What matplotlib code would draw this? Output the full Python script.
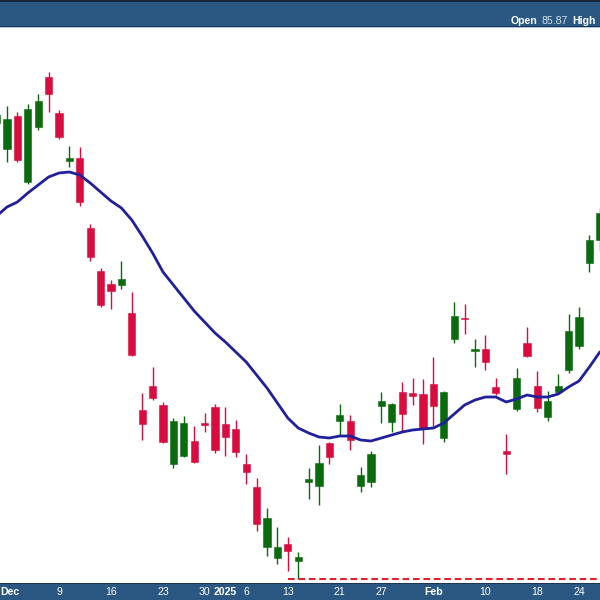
"""Daily candlestick chart, Nov 29 2024 - Feb 26 2025, with moving average."""

import matplotlib
matplotlib.use("Agg")
import matplotlib.pyplot as plt
from matplotlib.patches import Rectangle
import numpy as np

plt.rcParams["font.family"] = ["Liberation Sans", "DejaVu Sans"]

# trading days shown (Jan 9 market closed)
dates = [
    "Nov 29", "Dec 2", "Dec 3", "Dec 4", "Dec 5", "Dec 6", "Dec 9", "Dec 10",
    "Dec 11", "Dec 12", "Dec 13", "Dec 16", "Dec 17", "Dec 18", "Dec 19",
    "Dec 20", "Dec 23", "Dec 24", "Dec 26", "Dec 27", "Dec 30", "Dec 31",
    "Jan 2", "Jan 3", "Jan 6", "Jan 7", "Jan 8", "Jan 10", "Jan 13", "Jan 14",
    "Jan 15", "Jan 16", "Jan 17", "Jan 21", "Jan 22", "Jan 23", "Jan 24",
    "Jan 27", "Jan 28", "Jan 29", "Jan 30", "Jan 31", "Feb 3", "Feb 4",
    "Feb 5", "Feb 6", "Feb 7", "Feb 10", "Feb 11", "Feb 12", "Feb 13",
    "Feb 14", "Feb 18", "Feb 19", "Feb 20", "Feb 21", "Feb 24", "Feb 25",
    "Feb 26",
]

opens = [
    93.85, 92.55, 94.20, 90.90, 93.65, 96.15, 94.35, 91.95, 92.10, 88.60,
    86.45, 85.80, 85.75, 84.35, 79.50, 80.70, 79.75, 76.80, 77.20, 77.95,
    78.85, 79.65, 78.80, 78.55, 76.80, 75.65, 72.65, 72.10, 72.80, 71.95,
    75.90, 75.70, 77.85, 78.95, 78.95, 75.70, 75.90, 79.70, 78.90, 80.40,
    80.35, 80.30, 80.80, 78.10, 83.05, 84.10, 82.45, 82.55, 80.65, 77.45,
    79.55, 82.85, 80.70, 79.15, 80.40, 81.50, 82.70, 86.85, 88.00,
]
highs = [
    94.60, 94.70, 94.40, 94.80, 95.30, 96.40, 94.50, 92.70, 92.65, 88.80,
    86.60, 86.00, 86.95, 85.40, 80.35, 81.65, 79.90, 79.10, 79.20, 78.70,
    79.35, 79.80, 79.65, 79.00, 77.30, 76.10, 74.60, 73.65, 73.15, 72.40,
    76.60, 77.75, 77.90, 79.80, 79.25, 76.65, 77.45, 80.40, 79.85, 80.90,
    81.10, 81.05, 82.15, 80.45, 84.90, 84.80, 83.05, 83.25, 81.10, 78.30,
    81.60, 83.65, 81.45, 80.45, 81.30, 84.30, 84.65, 88.25, 89.60,
]
lows = [
    93.60, 91.90, 91.90, 90.80, 93.50, 94.40, 93.05, 91.65, 89.70, 86.95,
    84.65, 84.55, 85.55, 82.20, 78.00, 80.00, 77.85, 76.60, 77.15, 76.85,
    78.40, 77.35, 77.20, 77.15, 75.80, 73.45, 72.20, 71.80, 71.45, 71.05,
    75.05, 74.75, 76.80, 78.25, 77.50, 75.40, 75.65, 78.85, 78.40, 78.45,
    79.75, 77.80, 78.70, 77.90, 82.85, 83.30, 81.65, 81.50, 80.25, 76.30,
    79.45, 82.15, 79.40, 78.95, 80.35, 81.35, 82.55, 86.40, 87.45,
]
closes = [
    94.25, 94.05, 92.00, 94.55, 94.95, 95.30, 93.15, 92.10, 89.90, 87.15,
    84.75, 85.45, 86.05, 82.25, 78.80, 80.10, 77.90, 78.95, 78.85, 76.90,
    78.75, 77.50, 78.15, 77.40, 76.40, 73.80, 74.10, 72.65, 72.45, 72.15,
    76.05, 76.85, 77.15, 79.25, 78.00, 76.25, 77.30, 79.95, 79.80, 79.30,
    80.20, 78.60, 79.70, 80.40, 84.20, 84.05, 82.55, 81.90, 80.35, 77.30,
    81.10, 82.20, 79.60, 79.95, 80.70, 83.45, 84.15, 88.00, 89.35,
]

# moving average
ma = [
    89.20, 89.65, 89.90, 90.35, 90.75, 91.15, 91.35, 91.40, 91.25, 90.85,
    90.40, 89.95, 89.60, 89.00, 88.20, 87.35, 86.40, 85.75, 85.10, 84.45,
    83.90, 83.35, 82.90, 82.40, 81.90, 81.25, 80.60, 79.85, 79.10, 78.60,
    78.35, 78.15, 78.10, 78.20, 78.20, 78.00, 77.95, 78.10, 78.25, 78.40,
    78.50, 78.55, 78.60, 78.85, 79.30, 79.75, 80.00, 80.15, 80.15, 79.90,
    80.05, 80.25, 80.15, 80.15, 80.30, 80.65, 80.95, 81.65, 82.40,
]

tick_dates = ["Dec 2", "Dec 9", "Dec 16", "Dec 23", "Dec 30", "Jan 2", "Jan 6",
              "Jan 13", "Jan 21", "Jan 27", "Feb 3", "Feb 10", "Feb 18", "Feb 24"]
tick_labels = ["Dec", "9", "16", "23", "30", "2025", "6",
               "13", "21", "27", "Feb", "10", "18", "24"]
bold_labels = ["Dec", "2025", "Feb"]

support_start = "Jan 13"
header_open = "85.87"

UP = "#0a6a0e"
DOWN = "#d80c3e"
MA_COLOR = "#20209a"
BAR_BLUE = "#2a5883"

W, H = 600, 600


def main():
    x = np.arange(len(dates))
    o = np.array(opens)
    c = np.array(closes)
    up = c >= o
    colors = np.where(up, UP, DOWN)

    fig = plt.figure(figsize=(6, 6), dpi=100)
    ax = fig.add_axes([0, 0, 1, 1])
    ax.set_xlim(3.4 / 10.4, (W + 3.4) / 10.4)
    ax.set_ylim(70, 100)
    ax.axis("off")

    # wicks and bodies
    ax.vlines(x, lows, highs, colors=colors, lw=1.0, zorder=2)
    bottoms = np.minimum(o, c)
    heights = np.maximum(np.abs(c - o), 0.06)
    ax.bar(x, heights, bottom=bottoms, width=0.68, color=colors,
           edgecolor=colors, lw=0.4, zorder=3)

    ax.plot(x, ma, color=MA_COLOR, lw=2.0, zorder=4, solid_capstyle="round")

    # dashed support line at the lowest low
    s0 = dates.index(support_start)
    ax.hlines(min(lows), s0, ax.get_xlim()[1], colors="#e0202a", lw=1.5,
              linestyles=(0, (3.2, 1.8)), zorder=2)

    # header band
    ax.add_patch(Rectangle((0, 1 - 27 / H), 1, 27 / H, transform=ax.transAxes,
                           facecolor=BAR_BLUE, edgecolor="none", zorder=5))
    ax.add_patch(Rectangle((0, 1 - 2 / H), 1, 2 / H, transform=ax.transAxes,
                           facecolor="#17263a", edgecolor="none", zorder=6))
    ax.add_patch(Rectangle((0, 1 - 28 / H), 1, 1.2 / H, transform=ax.transAxes,
                           facecolor="#a9c8e6", edgecolor="none", zorder=6))
    ax.add_patch(Rectangle((0, 1 - 27 / H), 1, 1 / H, transform=ax.transAxes,
                           facecolor="#1b3550", edgecolor="none", zorder=6))
    ty = 1 - 21.5 / H
    ax.text(511 / W, ty, "Open", transform=ax.transAxes, color="white",
            fontsize=7.6, fontweight="bold", va="center", ha="left", zorder=7)
    ax.text(542 / W, ty, header_open, transform=ax.transAxes, color="#d4e0ec",
            fontsize=7.6, va="center", ha="left", zorder=7)
    ax.text(572 / W, ty, "High", transform=ax.transAxes, color="white",
            fontsize=7.6, fontweight="bold", va="center", ha="left", zorder=7)

    # date band
    ax.add_patch(Rectangle((0, 0), 1, 16 / H, transform=ax.transAxes,
                           facecolor=BAR_BLUE, edgecolor="none", zorder=5))
    ax.add_patch(Rectangle((0, 16 / H), 1, 1.2 / H, transform=ax.transAxes,
                           facecolor="#1b3550", edgecolor="none", zorder=6))
    trans = ax.get_xaxis_transform()
    for d, lab in zip(tick_dates, tick_labels):
        weight = "bold" if lab in bold_labels else "normal"
        xi = dates.index(d)
        if xi == 1:
            # first label sits against the left edge
            ax.text(0.5 / W, 8 / H, lab, transform=ax.transAxes, color="white",
                    fontsize=7.6, va="center", ha="left", zorder=7,
                    fontweight=weight)
            continue
        ax.text(xi, 8 / H, lab, transform=trans, color="white",
                fontsize=7.6, va="center", ha="center", zorder=7,
                fontweight=weight)

    fig.savefig("out.png", dpi=100)
    plt.close(fig)


if __name__ == "__main__":
    main()
